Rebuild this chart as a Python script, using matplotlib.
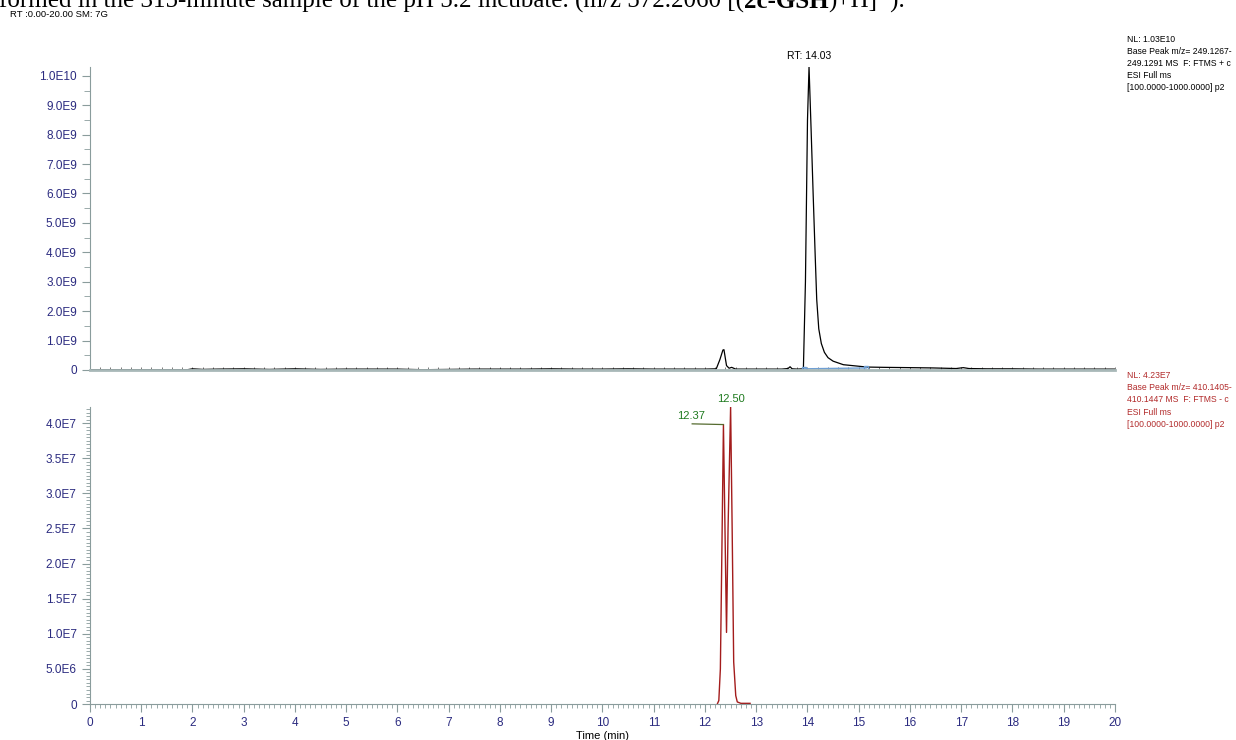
import numpy as np
import matplotlib
matplotlib.use("Agg")
import matplotlib.pyplot as plt
from matplotlib.ticker import MultipleLocator, FixedLocator

plt.rcParams["font.family"] = ["Liberation Sans", "DejaVu Sans"]

# -----------------------------
# Data
# -----------------------------

# top trace: base peak m/z 249.1267-249.1291, intensity in units of 1E9
top_time = [0.0, 0.5, 1.0, 1.5, 1.9, 2.0, 2.2, 2.5, 3.0, 3.5, 4.0, 4.5, 5.0, 5.5,
            6.0, 6.5, 7.0, 7.5, 8.0, 8.5, 9.0, 9.5, 10.0, 10.5, 11.0, 11.5, 12.0,
            12.22, 12.29, 12.35, 12.37, 12.42, 12.47, 12.52, 12.6, 13.0, 13.5,
            13.62, 13.66, 13.7, 13.8, 13.92, 13.96, 14.0, 14.03, 14.07, 14.11,
            14.15, 14.18, 14.22, 14.27, 14.33, 14.4, 14.5, 14.7, 15.16, 15.5, 16.0,
            16.45, 16.9, 17.04, 17.15, 17.5, 18.0, 18.5, 19.0, 19.5, 20.0]
top_int = [0.01, 0.01, 0.01, 0.01, 0.01, 0.04, 0.02, 0.03, 0.04, 0.02, 0.04, 0.02,
           0.03, 0.03, 0.03, 0.01, 0.02, 0.03, 0.03, 0.03, 0.04, 0.03, 0.03, 0.04,
           0.03, 0.03, 0.03, 0.04, 0.35, 0.68, 0.69, 0.15, 0.06, 0.09, 0.03, 0.03,
           0.03, 0.05, 0.11, 0.04, 0.03, 0.04, 3.0, 8.5, 10.3, 8.2, 6.0, 3.9, 2.4,
           1.4, 0.9, 0.6, 0.42, 0.3, 0.18, 0.10, 0.09, 0.08, 0.07, 0.05, 0.08, 0.05,
           0.04, 0.04, 0.03, 0.03, 0.03, 0.03]

# integration baseline of the RT 14.03 peak
base_time = [13.93, 15.15]
base_int = [0.04, 0.07]

# bottom trace: base peak m/z 410.1405-410.1447, intensity in units of 1E6
bot_time = [12.24, 12.27, 12.30, 12.33, 12.36, 12.39, 12.42, 12.45, 12.50,
            12.53, 12.56, 12.60, 12.63, 12.70, 12.88]
bot_int = [0.0, 0.5, 5.0, 22.0, 39.8, 25.0, 10.2, 25.0, 42.3,
           25.0, 6.0, 1.2, 0.3, 0.1, 0.1]

top_ticks = [0, 1e9, 2e9, 3e9, 4e9, 5e9, 6e9, 7e9, 8e9, 9e9, 1e10]
top_labels = ["0", "1.0E9", "2.0E9", "3.0E9", "4.0E9", "5.0E9", "6.0E9",
              "7.0E9", "8.0E9", "9.0E9", "1.0E10"]
bot_ticks = [0, 5e6, 1e7, 1.5e7, 2e7, 2.5e7, 3e7, 3.5e7, 4e7]
bot_labels = ["0", "5.0E6", "1.0E7", "1.5E7", "2.0E7", "2.5E7", "3.0E7",
              "3.5E7", "4.0E7"]

top_info = ["NL: 1.03E10", "Base Peak m/z= 249.1267-", "249.1291 MS  F: FTMS + c",
            "ESI Full ms", "[100.0000-1000.0000] p2"]
bot_info = ["NL: 4.23E7", "Base Peak m/z= 410.1405-", "410.1447 MS  F: FTMS - c",
            "ESI Full ms", "[100.0000-1000.0000] p2"]

# -----------------------------
# Styles
# -----------------------------
navy = "#2b2b80"
spine = "#8a9c9c"
red = "#a31c1c"
green = "#1e7a1e"

fig = plt.figure(figsize=(12.36, 7.40), dpi=100)

ax1 = fig.add_axes([0.0728, 0.5, 0.8293, 0.4095])
ax2 = fig.add_axes([0.0728, 0.0486, 0.8293, 0.4014])

for ax in (ax1, ax2):
    for s in ("top", "right"):
        ax.spines[s].set_visible(False)
    ax.spines["left"].set_color(spine)
    ax.spines["bottom"].set_color(spine)
    ax.set_xlim(0, 20)
    ax.tick_params(axis="both", colors=spine, labelcolor=navy, labelsize=8.5)

# -----------------------------
# Top chromatogram
# -----------------------------
ax1.plot(top_time, np.array(top_int) * 1e9, color="black", lw=0.9)
ax1.plot(base_time, np.array(base_int) * 1e9, color="#6f9fd4", lw=1.0,
         marker="s", ms=3.5, mfc="none", mec="#6f9fd4")
ax1.set_ylim(0, 1.03e10)
ax1.yaxis.set_major_locator(FixedLocator(top_ticks))
ax1.set_yticklabels(top_labels)
ax1.yaxis.set_minor_locator(MultipleLocator(5e8))
ax1.tick_params(axis="y", which="major", length=6)
ax1.tick_params(axis="y", which="minor", length=4, colors=spine)
ax1.spines["bottom"].set_linewidth(2)
ax1.spines["bottom"].set_color("#a8b8b8")
ax1.xaxis.set_major_locator(FixedLocator([]))
ax1.xaxis.set_minor_locator(MultipleLocator(0.2))
ax1.tick_params(axis="x", which="minor", direction="in", length=2, colors="#666666")

pk = int(np.argmax(top_int))
ax1.annotate("RT: 14.03", xy=(top_time[pk], top_int[pk] * 1e9), xytext=(0, 4),
             textcoords="offset points", ha="center", va="bottom", fontsize=7.5)

# -----------------------------
# Bottom chromatogram
# -----------------------------
ax2.plot(bot_time, np.array(bot_int) * 1e6, color=red, lw=1.0)
ax2.set_ylim(0, 4.23e7)
ax2.yaxis.set_major_locator(FixedLocator(bot_ticks))
ax2.set_yticklabels(bot_labels)
ax2.yaxis.set_minor_locator(MultipleLocator(5e5))
ax2.xaxis.set_major_locator(MultipleLocator(1))
ax2.xaxis.set_minor_locator(MultipleLocator(0.1))
ax2.tick_params(axis="both", which="major", length=6)
ax2.tick_params(axis="both", which="minor", length=3, colors=spine)
ax2.set_xlabel("Time (min)", fontsize=8, labelpad=1)

ax2.plot([11.75, 12.36], [3.99e7, 3.98e7], color="#556b2f", lw=0.9)
ax2.text(11.72, 4.03e7, "12.37", color=green, fontsize=8, ha="center", va="bottom")
ax2.annotate("12.50", xy=(12.50, 4.23e7), xytext=(0, 2), textcoords="offset points",
             ha="center", va="bottom", color=green, fontsize=8, annotation_clip=False)

# -----------------------------
# Side notes and header
# -----------------------------
for i, line in enumerate(top_info):
    fig.text(0.912, 1 - (40 + 12 * i) / 740, line, fontsize=6.2, va="center")
for i, line in enumerate(bot_info):
    fig.text(0.912, 1 - (375 + 12.4 * i) / 740, line, fontsize=6.2, va="center",
             color="#b22b2b")

fig.text(10 / 1236, 1 - 17 / 740, "RT :0.00-20.00 SM: 7G", fontsize=6.8, va="baseline")

serif = ["Liberation Serif", "DejaVu Serif"]
t1 = fig.text(-0.001, 1 - 8 / 740,
              "formed in the 315-minute sample of the pH 5.2 incubate. (m/z 572.2060 [(",
              fontsize=18, family=serif, va="baseline")
t2 = fig.text(0, 0, "2c-GSH", fontsize=18, family=serif, weight="bold", va="baseline")
t3 = fig.text(0, 0, ")+H]\u207a).", fontsize=18, family=serif, va="baseline")
fig.canvas.draw()
r = fig.canvas.get_renderer()
x = t1.get_window_extent(r).x1 / fig.bbox.width
t2.set_x(x)
t2.set_y(1 - 8 / 740)
x = t2.get_window_extent(r).x1 / fig.bbox.width
t3.set_x(x)
t3.set_y(1 - 8 / 740)

fig.savefig("out.png", dpi=100)
plt.close()
